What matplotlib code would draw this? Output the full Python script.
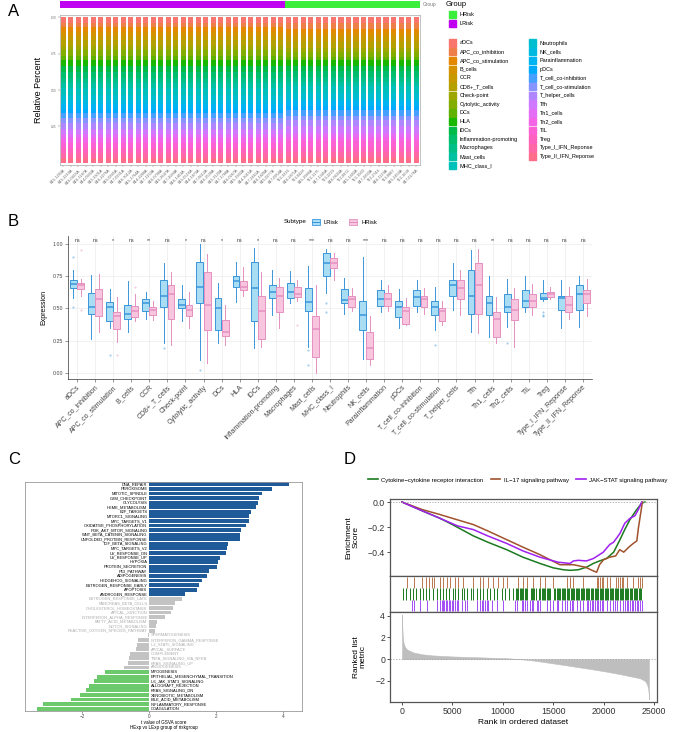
import numpy as np
import matplotlib.pyplot as plt
from matplotlib.patches import Rectangle
from matplotlib.lines import Line2D

plt.rcParams['font.family'] = ['Liberation Sans', 'DejaVu Sans']

# ========== data ==========
cell_types = ['aDCs', 'APC_co_inhibition', 'APC_co_stimulation', 'B_cells', 'CCR',
              'CD8+_T_cells', 'Check-point', 'Cytolytic_activity', 'DCs', 'HLA', 'iDCs',
              'Inflammation-promoting', 'Macrophages', 'Mast_cells', 'MHC_class_I',
              'Neutrophils', 'NK_cells', 'Parainflammation', 'pDCs', 'T_cell_co-inhibition',
              'T_cell_co-stimulation', 'T_helper_cells', 'Tfh', 'Th1_cells', 'Th2_cells',
              'TIL', 'Treg', 'Type_I_IFN_Reponse', 'Type_II_IFN_Reponse']

lrisk_samples = ['B15-1293A', 'B15-2210A', 'B16-0415A', 'B16-1187A', 'B14-0932A', 'B15-3301A',
                 'B16-2276A', 'B15-0845A', 'B17-0331A', 'B16-3012A', 'B15-1764A', 'B14-2288A',
                 'B17-1150A', 'B16-0798A', 'B15-2647A', 'B17-2094A', 'B16-1453A', 'B15-0516A',
                 'B14-1873A', 'B17-0612A', 'B16-2539A', 'B15-3120A', 'B17-1788A', 'B16-0267A',
                 'B15-1932A', 'B14-3015A', 'B17-2461A', 'B16-1820A', 'B15-0277A', 'B17-0954A']
hrisk_samples = ['T12-3316', 'B16-2871A', 'T13-0428', 'B15-2986A', 'T12-1175', 'B17-1345A',
                 'T13-2219', 'B16-0633A', 'T12-0972', 'B15-1402A', 'T13-1560', 'B17-2830A',
                 'T12-2744', 'B16-1119A', 'T13-0887', 'B15-2453A', 'T12-1638', 'B17-0176A']

# box statistics per cell type (LRisk)
l_q1 = [.66, .46, .40, .42, .48, .51, .50, .545, .33, .67, .40, .58, .58, .48, .75,
        .54, .33, .52, .43, .52, .45, .60, .46, .45, .47, .51, .57, .49, .49]
l_med = [.69, .51, .51, .46, .54, .60, .53, .67, .50, .71, .66, .63, .63, .55, .85,
         .565, .45, .57, .51, .59, .51, .68, .60, .54, .51, .56, .58, .58, .61]
l_q3 = [.72, .62, .55, .53, .57, .72, .57, .86, .58, .75, .86, .68, .70, .66, .93,
        .65, .56, .64, .56, .64, .56, .72, .80, .60, .61, .64, .62, .60, .68]
l_lo = [.58, .26, .35, .32, .42, .23, .40, .10, .23, .55, .19, .45, .54, .20, .62,
        .46, .11, .47, .35, .47, .33, .49, .32, .28, .36, .47, .56, .35, .36]
l_hi = [.80, .76, .65, .71, .63, .85, .68, 1.0, .70, .86, .97, .80, .79, .83, .96,
        .74, .90, .72, .65, .72, .67, .85, .95, .75, .73, .75, .72, .72, .75]
l_out = {0: [.51, .90], 2: [.14], 5: [.19], 7: [.02], 13: [.18, .06], 14: [.54, .47],
         20: [.22], 24: [.23], 26: [.47, .45, .44]}

# box statistics per cell type (HRisk)
h_q1 = [.65, .44, .34, .43, .45, .42, .44, .33, .29, .64, .26, .47, .59, .12, .81,
        .51, .11, .52, .38, .51, .40, .57, .46, .28, .41, .51, .59, .47, .54]
h_med = [.68, .57, .44, .48, .49, .61, .49, .53, .32, .67, .48, .60, .61, .34, .85,
         .57, .19, .57, .48, .57, .48, .66, .68, .42, .49, .56, .61, .53, .61]
h_q3 = [.70, .65, .47, .52, .51, .68, .53, .78, .41, .71, .60, .67, .67, .44, .89,
        .60, .32, .62, .51, .60, .50, .72, .85, .47, .57, .61, .63, .60, .64]
h_lo = [.60, .32, .24, .40, .41, .22, .35, .08, .22, .60, .20, .35, .56, .00, .72,
        .48, .06, .48, .37, .46, .37, .45, .31, .23, .20, .45, .57, .42, .44]
h_hi = [.73, .77, .59, .61, .56, .78, .63, .92, .53, .82, .78, .74, .72, .68, .93,
        .66, .44, .68, .58, .66, .56, .80, .96, .59, .66, .69, .67, .67, .73]
h_out = {0: [.49, .95], 2: [.14], 3: [.67], 12: [.37]}

signif = ['ns', 'ns', '*', 'ns', '**', 'ns', '*', 'ns', '*', 'ns', '*', 'ns', 'ns', '***',
          'ns', 'ns', '***', 'ns', 'ns', 'ns', 'ns', 'ns', 'ns', '**', 'ns', 'ns', 'ns',
          'ns', 'ns']

# GSVA t values (HExp vs LExp)
gsva_pathways = ['DNA_REPAIR', 'PEROXISOME', 'MITOTIC_SPINDLE', 'G2M_CHECKPOINT', 'GLYCOLYSIS',
                 'HEME_METABOLISM', 'E2F_TARGETS', 'MTORC1_SIGNALING', 'MYC_TARGETS_V1',
                 'OXIDATIVE_PHOSPHORYLATION', 'PI3K_AKT_MTOR_SIGNALING',
                 'WNT_BETA_CATENIN_SIGNALING', 'UNFOLDED_PROTEIN_RESPONSE',
                 'TGF_BETA_SIGNALING', 'MYC_TARGETS_V2', 'UV_RESPONSE_DN', 'UV_RESPONSE_UP',
                 'HYPOXIA', 'PROTEIN_SECRETION', 'P53_PATHWAY', 'ADIPOGENESIS',
                 'HEDGEHOG_SIGNALING', 'ESTROGEN_RESPONSE_EARLY', 'APOPTOSIS',
                 'ANDROGEN_RESPONSE', 'ESTROGEN_RESPONSE_LATE', 'PANCREAS_BETA_CELLS',
                 'CHOLESTEROL_HOMEOSTASIS', 'APICAL_JUNCTION', 'INTERFERON_ALPHA_RESPONSE',
                 'FATTY_ACID_METABOLISM', 'NOTCH_SIGNALING', 'REACTIVE_OXYGEN_SPECIES_PATHWAY',
                 'SPERMATOGENESIS', 'INTERFERON_GAMMA_RESPONSE', 'IL2_STAT5_SIGNALING',
                 'APICAL_SURFACE', 'COMPLEMENT', 'TNFA_SIGNALING_VIA_NFKB', 'KRAS_SIGNALING_UP',
                 'ANGIOGENESIS', 'MYOGENESIS', 'EPITHELIAL_MESENCHYMAL_TRANSITION',
                 'IL6_JAK_STAT3_SIGNALING', 'ALLOGRAFT_REJECTION', 'KRAS_SIGNALING_DN',
                 'XENOBIOTIC_METABOLISM', 'BILE_ACID_METABOLISM', 'INFLAMMATORY_RESPONSE',
                 'COAGULATION']
gsva_t = [4.18, 3.66, 3.39, 3.30, 3.27, 3.19, 3.06, 3.00, 2.99, 2.91, 2.74, 2.72, 2.71,
          2.35, 2.32, 2.30, 2.12, 2.07, 2.02, 1.80, 1.74, 1.57, 1.50, 1.43, 1.08,
          0.98, 0.78, 0.73, 0.67, 0.48, 0.23, 0.22, 0.17,
          -0.04, -0.33, -0.36, -0.38, -0.57, -0.60, -0.62, -0.75,
          -1.31, -1.55, -1.64, -1.78, -1.88, -2.06, -2.34, -3.16, -3.34]

# GSEA (rank positions in thousands)
gsea_names = ['Cytokine\u2212cytokine receptor interaction', 'IL\u221217 signaling pathway',
              'JAK\u2212STAT signaling pathway']
green_es_x = [0, 1, 2, 3.77, 5, 7.08, 8.5, 10.38, 12, 13.69, 15, 16.0, 16.66, 17.5, 18.3,
              18.98, 19.6, 20.3, 21.0, 21.63, 22.1, 22.62, 23.2, 23.78, 24.1]
green_es_y = [0, -0.035, -0.07, -0.13, -0.18, -0.27, -0.32, -0.38, -0.44, -0.49, -0.525,
              -0.54, -0.545, -0.54, -0.52, -0.49, -0.47, -0.45, -0.40, -0.30, -0.22, -0.14,
              -0.07, -0.01, 0.0]
brown_es_x = [0, 1, 2, 3.77, 5, 7.08, 8.5, 10.38, 12, 13.69, 15.67, 17.0, 18.2, 19.0, 19.31,
              19.6, 20.0, 20.6, 21.2, 21.6, 22.0, 22.5, 22.95, 23.3, 23.45, 23.7, 23.85]
brown_es_y = [0, -0.03, -0.06, -0.10, -0.13, -0.18, -0.23, -0.30, -0.36, -0.42, -0.50,
              -0.50, -0.52, -0.55, -0.56, -0.50, -0.46, -0.44, -0.43, -0.38, -0.40, -0.36,
              -0.33, -0.31, -0.21, -0.08, 0.0]
purple_es_x = [0, 1, 2, 3.77, 5.5, 7.08, 8.5, 10.38, 12, 13.69, 15.5, 16.67, 17.0, 17.5, 18.3,
               19.0, 19.97, 20.6, 21.0, 21.63, 22.1, 22.62, 23.1, 23.45, 23.78]
purple_es_y = [0, -0.035, -0.07, -0.13, -0.19, -0.22, -0.27, -0.33, -0.39, -0.44, -0.48,
               -0.49, -0.47, -0.465, -0.47, -0.45, -0.40, -0.34, -0.32, -0.25, -0.17, -0.13,
               -0.11, -0.06, 0.0]

brown_hits = [0.46, 1.19, 1.95, 2.38, 2.71, 2.94, 3.21, 3.77, 4.1, 4.43, 4.76, 5.26, 5.59,
              6.08, 7.08, 7.74, 8.07, 8.56, 9.0, 9.56, 9.99, 10.38, 11.54, 12.04, 12.37,
              12.96, 13.69, 14.19, 15.01, 16.34, 16.67, 17.0, 17.99, 19.31, 19.48, 19.64,
              19.81, 19.97, 20.3, 20.63, 21.23, 21.46, 21.63, 21.79, 21.96, 22.29, 22.95,
              23.45, 23.61, 23.78]
green_hits = [0.13, 0.4, 0.79, 1.12, 1.39, 1.79, 2.12, 2.38, 2.71, 3.04, 3.44, 3.77, 4.03,
              4.37, 4.7, 5.03, 5.26, 5.59, 5.92, 6.15, 6.48, 6.81, 7.08, 7.41, 7.74, 8.07,
              8.4, 8.73, 9.13, 9.46, 9.89, 10.22, 10.65, 10.98,
              11.3, 11.42, 11.55, 11.66, 11.8, 11.93, 12.05, 12.18, 12.3, 12.44, 12.75,
              12.88, 13.0, 13.12, 13.25, 13.6, 13.72, 13.85, 13.97, 14.1, 14.22, 14.35,
              14.48, 14.6, 14.72, 15.1, 15.22, 15.35, 15.47, 15.6, 15.72, 15.85, 15.97,
              16.1, 16.22, 16.35, 16.47, 16.6, 16.72, 16.85, 16.97, 17.1, 17.22, 17.35,
              17.47, 17.6, 17.72, 17.85, 17.97, 18.1, 18.22, 18.35, 18.47, 18.6, 18.72,
              18.85, 18.97, 19.1, 19.22, 19.35, 19.47, 19.6, 19.72, 19.85, 19.97, 20.1,
              20.22, 20.35, 20.47, 20.6, 20.72, 20.85, 20.97, 21.1, 21.22, 21.35, 21.47,
              21.6, 21.72, 21.85, 21.97, 22.1, 22.22, 22.35, 22.47, 22.6, 22.72, 22.85,
              22.97, 23.1, 23.22, 23.35, 23.47, 23.6, 23.72]
purple_hits = [0.96, 1.19, 1.79, 2.45, 3.44, 3.77, 3.94, 4.1, 4.17, 4.37, 4.5, 4.7, 4.76,
               4.93, 5.09, 5.26, 5.42, 5.59, 5.92, 6.25, 6.42, 7.41, 7.74, 7.9, 8.07, 8.23,
               8.4, 8.56, 8.9, 9.39, 10.05, 11.21, 11.38, 11.87, 12.04, 12.2, 12.37, 12.7,
               12.86, 13.03, 13.36, 13.52, 13.69, 14.35, 14.68, 15.01, 15.34, 15.51, 15.84,
               16.17, 16.34, 16.67, 16.83, 17.0, 17.33, 17.66, 17.99, 18.32, 18.49, 18.65,
               18.82, 18.98, 19.15, 19.31, 19.48, 19.64, 19.81, 19.97, 20.3, 20.63, 20.97,
               21.13, 21.3, 21.63, 21.96, 22.12, 22.29, 22.45, 22.62, 22.78, 22.95, 23.12,
               23.28, 23.45, 23.61, 23.78]

rank_x = [0, 0.03, 0.08, 0.15, 0.3, 0.5, 0.8, 1.2, 2.0, 3.0, 3.77, 5.0, 7.08, 9.0, 10.38,
          11.7, 13.0, 14.5, 16.66, 18.5, 20.3, 22.0, 23.6, 24.1, 24.3, 24.42, 24.48, 24.5]
rank_y = [4.1, 2.9, 2.1, 1.5, 1.1, 0.9, 0.75, 0.6, 0.45, 0.35, 0.31, 0.25, 0.19, 0.13, 0.09,
          0.0, -0.12, -0.32, -0.62, -0.88, -1.15, -1.45, -1.76, -2.0, -2.3, -2.7, -3.2, -3.7]


# ========== helpers ==========
def hue_pal(n, l=65, c=100):
    # ggplot2 default hue palette (HCL -> sRGB)
    hs = np.linspace(15, 375, n + 1)[:-1]
    xn, yn, zn = 0.95047, 1.0, 1.08883
    un = 4 * xn / (xn + 15 * yn + 3 * zn)
    vn = 9 * yn / (xn + 15 * yn + 3 * zn)
    m = np.array([[3.2406, -1.5372, -0.4986],
                  [-0.9689, 1.8758, 0.0415],
                  [0.0557, -0.2040, 1.0570]])
    cols = []
    for h in hs:
        u = c * np.cos(np.radians(h))
        v = c * np.sin(np.radians(h))
        Y = ((l + 16) / 116) ** 3
        up = u / (13 * l) + un
        vp = v / (13 * l) + vn
        X = Y * 9 * up / (4 * vp)
        Z = Y * (12 - 3 * up - 20 * vp) / (4 * vp)
        rgb = m @ np.array([X, Y, Z])
        rgb = np.where(rgb > 0.0031308, 1.055 * np.clip(rgb, 0, None) ** (1 / 2.4) - 0.055,
                       12.92 * rgb)
        cols.append(tuple(np.clip(rgb, 0, 1)))
    return cols


W, H = 676, 732


def rect(l, t, r, b):
    return [l / W, 1 - b / H, (r - l) / W, (b - t) / H]


fig = plt.figure(figsize=(W / 100, H / 100), dpi=100)
ov = fig.add_axes([0, 0, 1, 1])
ov.set_xlim(0, W)
ov.set_ylim(H, 0)
ov.axis('off')

for letter, (px, py) in zip('ABCD', [(8, 12), (8, 222), (8, 460), (344, 460)]):
    ov.text(px, py, letter, fontsize=12, va='center', ha='left')

# ========== A: stacked relative percent ==========
type_cols = hue_pal(len(cell_types))
grp_cols = {'LRisk': '#C000F0', 'HRisk': '#3CEE3C'}
samples = lrisk_samples + hrisk_samples
groups = ['LRisk'] * len(lrisk_samples) + ['HRisk'] * len(hrisk_samples)
xs = np.arange(len(samples))

axg = fig.add_axes(rect(60, 1, 420, 8))
axg.bar(xs, 1, width=1.0, color=[grp_cols[g] for g in groups])
axg.set_xlim(-0.45, len(samples) - 0.47)
axg.set_ylim(0, 1)
axg.axis('off')
ov.text(423, 4.5, 'Group', fontsize=3.5, color='#777777', va='center')

axa = fig.add_axes(rect(60, 15, 420, 165))
prof_l = np.array(l_med) / np.sum(l_med)
prof_h = np.array(h_med) / np.sum(h_med)
fracs = np.array([prof_l if g == 'LRisk' else prof_h for g in groups])
bottom = np.zeros(len(samples))
for k in range(len(cell_types) - 1, -1, -1):
    axa.bar(xs, fracs[:, k], width=0.67, bottom=bottom, color=type_cols[k], linewidth=0)
    bottom += fracs[:, k]
axa.set_xlim(-0.45, len(samples) - 0.47)
axa.set_ylim(-0.0137, 1.0137)
axa.set_yticks([0.25, 0.5, 0.75, 1.0])
axa.set_yticklabels(['0.25', '0.50', '0.75', '1.00'], fontsize=2, color='#666666')
axa.set_xticks(xs)
axa.set_xticklabels(samples, rotation=45, ha='right', rotation_mode='anchor',
                    fontsize=2.8, color='#555555')
axa.tick_params(length=1.5, width=0.3, colors='#666666', pad=1)
for s in axa.spines.values():
    s.set_color('#AAAAAA')
    s.set_linewidth(0.5)
axa.set_ylabel('Relative Percent', fontsize=6.5, labelpad=6)

# legend for panel A
ov.text(446, 4, 'Group', fontsize=5.4, va='center')
for i, g in enumerate(['HRisk', 'LRisk']):
    yc = 14.7 + i * 9
    ov.add_patch(Rectangle((448.5, yc - 3.7), 7.5, 7.4, color=grp_cols[g]))
    ov.text(459.5, yc, g, fontsize=4, va='center')
for k, name in enumerate(cell_types):
    col = 0 if k < 15 else 1
    row = k if k < 15 else k - 15
    x0 = 448.5 if col == 0 else 528.5
    yc = 43 + row * 8.74
    ov.add_patch(Rectangle((x0, yc - 3.7), 7.5, 7.4, color=type_cols[k]))
    ov.text(x0 + 11, yc, name, fontsize=4, va='center')

# ========== B: boxplots ==========
axb = fig.add_axes(rect(68, 236, 592, 379))
l_edge, l_fill = '#3A96DA', '#A9DDF4'
h_edge, h_fill = '#E590C0', '#F7C6DE'
pos = np.arange(len(cell_types))
for q1, med, q3, lo, hi, outs, off, ec, fc in [
        (l_q1, l_med, l_q3, l_lo, l_hi, l_out, -0.2, l_edge, l_fill),
        (h_q1, h_med, h_q3, h_lo, h_hi, h_out, 0.2, h_edge, h_fill)]:
    stats = [dict(med=med[i], q1=q1[i], q3=q3[i], whislo=lo[i], whishi=hi[i],
                  fliers=outs.get(i, [])) for i in range(len(cell_types))]
    axb.bxp(stats, positions=pos + off, widths=0.38, patch_artist=True, showcaps=False,
            boxprops=dict(facecolor=fc, edgecolor=ec, linewidth=0.7),
            medianprops=dict(color=ec, linewidth=1.1),
            whiskerprops=dict(color=ec, linewidth=0.7),
            flierprops=dict(marker='o', markersize=1.6, markerfacecolor=ec,
                            markeredgecolor='none', alpha=0.45),
            zorder=3)
for i, s in enumerate(signif):
    axb.text(pos[i], 1.005, s, fontsize=3.8, ha='center', va='bottom', color='#333333')
axb.set_xlim(-0.5, len(cell_types) - 0.5)
axb.set_ylim(-0.047, 1.062)
axb.set_yticks([0, 0.25, 0.5, 0.75, 1.0])
axb.set_yticklabels(['0.00', '0.25', '0.50', '0.75', '1.00'], fontsize=3.8, color='#555555')
axb.set_xticks(pos)
axb.set_xticklabels(cell_types, rotation=45, ha='right', rotation_mode='anchor',
                    fontsize=5, color='#222222')
axb.tick_params(length=2, width=0.4, colors='#444444', pad=1.5)
axb.grid(True, color='#EBEBEB', linewidth=0.5, zorder=0)
axb.set_axisbelow(True)
for k in ['top', 'right']:
    axb.spines[k].set_visible(False)
for k in ['left', 'bottom']:
    axb.spines[k].set_color('#333333')
    axb.spines[k].set_linewidth(0.5)
axb.set_ylabel('Expression', fontsize=5, labelpad=4)

# legend for panel B
ov.text(284, 222, 'Subtype', fontsize=4.5, va='center')
for x0, name, ec, fc in [(312, 'LRisk', l_edge, l_fill), (349, 'HRisk', h_edge, h_fill)]:
    ov.add_patch(Rectangle((x0, 219), 8, 6, facecolor=fc, edgecolor=ec, linewidth=0.6))
    ov.plot([x0, x0 + 8], [222, 222], color=ec, linewidth=0.7)
    ov.text(x0 + 12, 222, name, fontsize=4.2, va='center')

# ========== C: GSVA t values ==========
axc = fig.add_axes(rect(25, 482, 302, 711))
rows = np.arange(len(gsva_pathways))
bar_cols = ['#1F5A99' if t > 1.0 else ('#6CC96C' if t < -1.0 else '#C3C3C3') for t in gsva_t]
axc.barh(rows, gsva_t, height=0.85, color=bar_cols)
for r, name, t, c in zip(rows, gsva_pathways, gsva_t, bar_cols):
    tc = '#AAAAAA' if c == '#C3C3C3' else 'black'
    if t > 0:
        axc.text(-0.05, r, name, fontsize=2.9, ha='right', va='center', color=tc)
    else:
        axc.text(0.05, r, name, fontsize=2.9, ha='left', va='center', color=tc)
axc.set_xlim(-3.70, 4.57)
axc.set_ylim(len(rows) - 0.5, -0.5)
axc.set_yticks([])
axc.set_xticks([-2, 0, 2, 4])
axc.tick_params(axis='x', labelsize=3.3, length=1.5, width=0.4, pad=0.5, colors='#444444')
for s in axc.spines.values():
    s.set_color('#999999')
    s.set_linewidth(0.6)
axc.set_xlabel('t value of GSVA score\nHExp vs LExp group of riskgroup', fontsize=3.3,
               labelpad=1, linespacing=1.0)

# ========== D: GSEA ==========
cols_d = ['#1B7A1F', '#A0522D', '#A020F0']
hit_cols = ['#1B7A1F', '#B8774D', '#A24DF5']
frame = '#555555'

axe = fig.add_axes(rect(390, 499, 657, 576))
for xk, yk, c in [(green_es_x, green_es_y, cols_d[0]), (brown_es_x, brown_es_y, cols_d[1]),
                  (purple_es_x, purple_es_y, cols_d[2])]:
    axe.plot(np.array(xk) * 1000, yk, color=c, linewidth=1.1)
axe.axhline(0, color='#999999', linestyle=(0, (2, 2)), linewidth=0.5)
axe.set_xlim(-1190, 25300)
axe.set_ylim(-0.59, 0.024)
axe.set_xticks([])
axe.set_yticks([0, -0.2, -0.4])
axe.set_yticklabels(['0.0', '\u22120.2', '\u22120.4'])
axe.set_ylabel('Enrichment\nScore', fontsize=6, labelpad=6, linespacing=1.0)

axt = fig.add_axes(rect(390, 576, 657, 612))
for hits, y0, c in [(brown_hits, 2, hit_cols[1]), (green_hits, 1, hit_cols[0]),
                    (purple_hits, 0, hit_cols[2])]:
    axt.vlines(np.array(hits) * 1000, y0, y0 + 1, color=c, linewidth=0.7)
axt.set_xlim(-1190, 25300)
axt.set_ylim(-0.05, 3.05)
axt.set_xticks([])
axt.set_yticks([])

axr = fig.add_axes(rect(390, 612, 657, 702))
axr.fill_between(np.array(rank_x) * 1000, rank_y, 0, color='#BEBEBE', linewidth=0.4)
axr.axhline(0, color='#999999', linestyle=(0, (2, 2)), linewidth=0.5)
axr.set_xlim(-1190, 25300)
axr.set_ylim(-3.95, 4.35)
axr.set_yticks([4, 2, 0, -2])
axr.set_yticklabels(['4', '2', '0', '\u22122'])
axr.set_xticks([0, 5000, 10000, 15000, 20000, 25000])
axr.set_ylabel('Ranked list\nmetric', fontsize=6, labelpad=6, linespacing=1.0)
axr.set_xlabel('Rank in ordered dataset', fontsize=6, labelpad=2)

for ax in [axe, axt, axr]:
    for s in ax.spines.values():
        s.set_color(frame)
        s.set_linewidth(0.9)
    ax.tick_params(labelsize=6.3, length=2, width=0.6, colors='#333333', pad=1.5)

handles = [Line2D([0], [0], color=c, linewidth=1.2) for c in cols_d]
fig.legend(handles, gsea_names, loc='center', bbox_to_anchor=(518 / W, 1 - 480 / H),
           ncol=3, frameon=False, fontsize=4.3, handlelength=1.6, columnspacing=1.2,
           handletextpad=0.6)

fig.savefig('out.png', dpi=100)
